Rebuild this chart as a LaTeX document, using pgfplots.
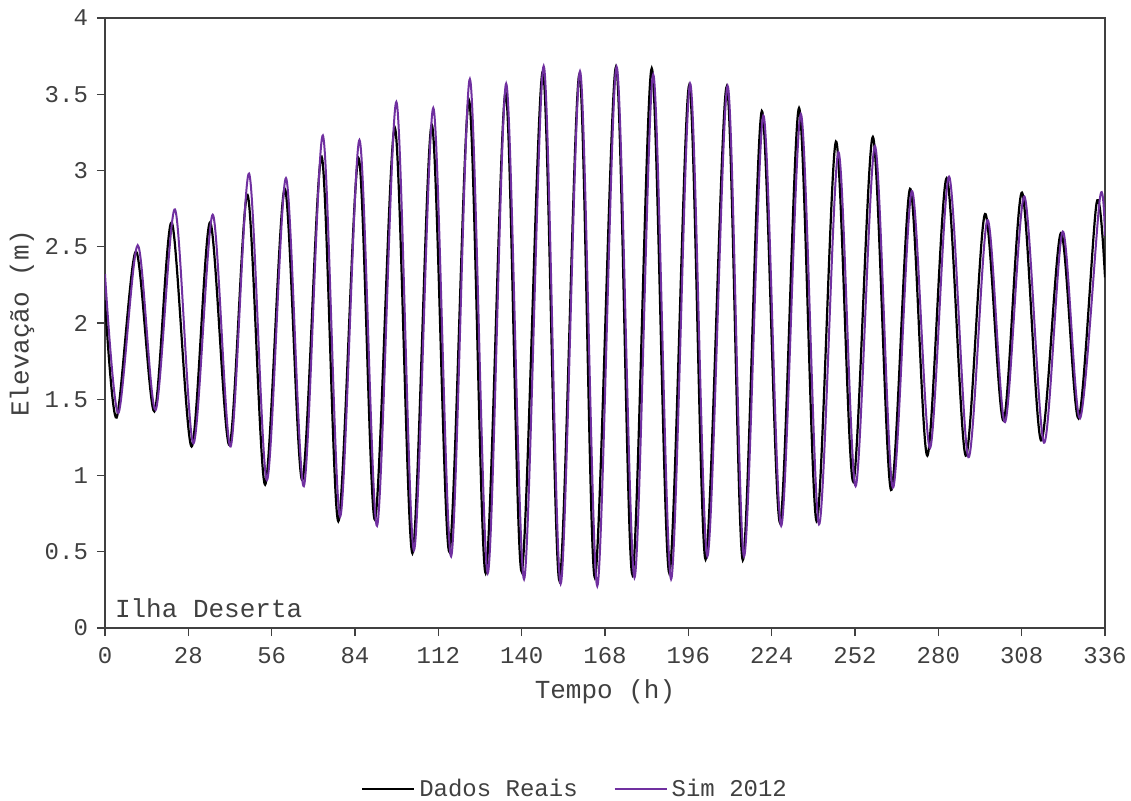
\documentclass[border=0pt]{standalone}
\usepackage{pgfplots}
\pgfplotsset{compat=1.18}
\usepackage{fontspec}
\setmainfont{Liberation Mono}
\definecolor{simpurple}{HTML}{7030A0}
\definecolor{axgray}{HTML}{404040}
\pgfplotstableread{
t v
0 2.15
3.9 1.38
10.4 2.47
16.6 1.42
22.4 2.66
29.1 1.19
35.3 2.66
41.8 1.20
47.9 2.84
53.8 0.94
60.4 2.88
66.3 0.97
72.8 3.09
78.4 0.70
85.2 3.08
90.7 0.71
97.4 3.28
103.3 0.49
109.8 3.30
115.7 0.50
122.3 3.46
127.9 0.36
134.6 3.51
140.0 0.37
147.1 3.65
152.7 0.31
159.4 3.63
164.6 0.33
171.7 3.68
177.2 0.35
183.7 3.67
189.6 0.36
196.3 3.56
201.8 0.45
208.9 3.55
214.3 0.445
220.7 3.39
226.8 0.69
233.2 3.41
239.1 0.70
245.6 3.19
251.4 0.96
258.0 3.22
264.1 0.905
270.5 2.88
276.3 1.13
282.8 2.95
289.2 1.13
295.7 2.715
301.9 1.36
308.1 2.855
314.5 1.23
321.2 2.59
327.1 1.375
333.2 2.79
336 2.30
}\reais
\pgfplotstableread{
t v
0 2.32
4.5 1.41
11.0 2.51
17.0 1.43
23.5 2.745
29.7 1.21
36.2 2.71
42.2 1.19
48.4 2.98
54.4 0.97
60.8 2.95
66.8 0.93
73.2 3.23
79.0 0.73
85.5 3.20
91.4 0.67
97.9 3.45
103.8 0.51
110.3 3.41
116.3 0.47
122.6 3.60
128.6 0.36
134.8 3.57
140.8 0.32
147.4 3.685
153.1 0.29
159.6 3.65
165.4 0.275
171.9 3.68
177.9 0.33
184.2 3.63
190.2 0.32
196.6 3.57
202.4 0.47
209.2 3.555
214.7 0.47
221.2 3.36
227.2 0.67
233.8 3.37
239.9 0.68
246.4 3.12
252.2 0.93
258.7 3.16
264.7 0.92
271.1 2.865
277.2 1.18
283.6 2.96
290.1 1.12
296.5 2.675
302.4 1.35
308.9 2.83
315.5 1.215
321.8 2.60
327.6 1.375
334.3 2.82
336 2.57
}\sim
\begin{document}
\begin{tikzpicture}
\begin{axis}[
  scale only axis,
  width=500pt, height=305pt,
  xmin=0, xmax=336, ymin=0, ymax=4,
  xtick={0,28,...,336},
  ytick={0,0.5,...,4},
  /pgf/number format/assume math mode=true,
  tick label style={font=\fontsize{12}{14}\selectfont, text=axgray},
  axis line style={axgray, line width=0.8pt},
  tick style={axgray, line width=0.6pt},
  tick align=outside,
  major tick length=4pt,
  xtick pos=bottom, ytick pos=left,
  xticklabel style={yshift=-2pt},
  yticklabel style={xshift=-1pt},
  xlabel={Tempo (h)},
  ylabel={Elevação (m)},
  every axis x label/.style={at={(axis description cs:0.5,-0.105)}, anchor=center,
    font=\fontsize{13}{15}\selectfont, text=axgray},
  every axis y label/.style={at={(axis description cs:-0.083,0.5)}, anchor=center, rotate=90,
    font=\fontsize{13}{15}\selectfont, text=axgray},
  legend style={at={(0.471,-0.264)}, anchor=center, draw=none, fill=none,
    font=\fontsize{12}{14}\selectfont, text=axgray,
    /tikz/every even column/.append style={column sep=16pt}},
  legend columns=2,
  legend image code/.code={\draw[#1] (0pt,0pt) -- (26pt,0pt);},
]
\addplot[black, line width=1.1pt, smooth] table[x=t,y=v] {\reais};
\addlegendentry{Dados Reais}
\addplot[simpurple, line width=1pt, smooth] table[x=t,y=v] {\sim};
\addlegendentry{Sim 2012}
\node[anchor=west, font=\fontsize{13}{15}\selectfont, text=axgray] at (axis cs:1.0,0.13) {Ilha Deserta};
\end{axis}
\pgfresetboundingbox
\path[use as bounding box] (-52.5pt,-86pt) rectangle (513pt,314pt);
\end{tikzpicture}
\end{document}
